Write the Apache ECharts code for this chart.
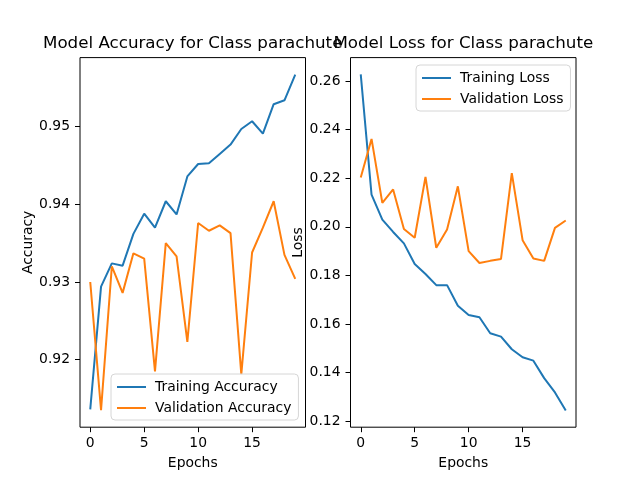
<!DOCTYPE html>
<html>
<head>
<meta charset="utf-8">
<script src="https://cdn.jsdelivr.net/npm/echarts@6/dist/echarts.min.js"></script>
<style>
html, body { margin: 0; padding: 0; background: #fff; }
#show { width: 640px; height: 480px; }
</style>
</head>
<body>
<div id="show"></div>
<script>
// epochs 0..19
var epochs = [0, 1, 2, 3, 4, 5, 6, 7, 8, 9, 10, 11, 12, 13, 14, 15, 16, 17, 18, 19];

// accuracy
var trainAcc = [0.9136, 0.9294, 0.9324, 0.9321, 0.9362, 0.9388, 0.9370, 0.9404, 0.9387, 0.9436,
	0.9452, 0.9453, 0.9465, 0.9477, 0.9497, 0.9507, 0.9491, 0.9529, 0.9534, 0.9567];
var valAcc = [0.9300, 0.9135, 0.9320, 0.9286, 0.9337, 0.9330, 0.9185, 0.9350, 0.9333, 0.9223,
	0.9376, 0.9366, 0.9373, 0.9363, 0.9181, 0.9338, 0.9370, 0.9404, 0.9335, 0.9304];

// loss
var trainLoss = [0.2628, 0.2133, 0.2030, 0.1979, 0.1932, 0.1847, 0.1806, 0.1760, 0.1760, 0.1675,
	0.1637, 0.1628, 0.1562, 0.1548, 0.1496, 0.1463, 0.1449, 0.1377, 0.1318, 0.1244];
var valLoss = [0.2203, 0.2362, 0.2099, 0.2154, 0.1991, 0.1955, 0.2206, 0.1914, 0.1989, 0.2167,
	0.1900, 0.1851, 0.1860, 0.1868, 0.2221, 0.1945, 0.1870, 0.1860, 0.1996, 0.2026];

// tick labels
var xTicks = [0, 5, 10, 15];
var accTicks = [0.92, 0.93, 0.94, 0.95];
var lossTicks = [0.12, 0.14, 0.16, 0.18, 0.20, 0.22, 0.24, 0.26];

var BLUE = '#1f77b4';
var ORANGE = '#ff7f0e';
var FONT = 'DejaVu Sans';

function pairs(ys) {
	var out = [];
	for (var i = 0; i < epochs.length; i++) {
		out.push([epochs[i], ys[i]]);
	}
	return out;
}

function xAxisOf(idx) {
	return {
		type: 'value',
		gridIndex: idx,
		min: -0.95,
		max: 19.95,
		name: 'Epochs',
		nameLocation: 'middle',
		nameGap: 29,
		nameTextStyle: { fontFamily: FONT, fontSize: 13.9, color: '#000' },
		axisLine: { show: false, onZero: false },
		axisTick: { show: true, customValues: xTicks, length: 5, lineStyle: { color: '#000' } },
		axisLabel: { customValues: xTicks, margin: 9, fontFamily: FONT, fontSize: 13.9, color: '#000' },
		splitLine: { show: false }
	};
}

function yAxisOf(idx, name, min, max, ticks, digits) {
	return {
		type: 'value',
		gridIndex: idx,
		min: min,
		max: max,
		name: name,
		nameLocation: 'middle',
		nameGap: 35,
		nameTextStyle: { fontFamily: FONT, fontSize: 13.9, color: '#000' },
		axisLine: { show: false, onZero: false },
		axisTick: { show: true, customValues: ticks, length: 5, lineStyle: { color: '#000' } },
		axisLabel: {
			customValues: ticks, margin: 10, fontFamily: FONT, fontSize: 13.9, color: '#000',
			formatter: function (v) { return v.toFixed(digits); }
		},
		splitLine: { show: false }
	};
}

function line(name, ys, color, idx) {
	return {
		name: name,
		type: 'line',
		xAxisIndex: idx,
		yAxisIndex: idx,
		data: pairs(ys),
		showSymbol: false,
		symbol: 'none',
		lineStyle: { color: color, width: 2 },
		itemStyle: { color: color },
		animation: false
	};
}

var legendBase = {
	orient: 'vertical',
	icon: 'rect',
	itemWidth: 29,
	itemHeight: 2,
	itemGap: 7,
	padding: [6, 7, 5, 6],
	backgroundColor: 'rgba(255,255,255,0.8)',
	borderColor: '#d6d6d6',
	borderWidth: 1,
	borderRadius: 4,
	textStyle: { fontFamily: FONT, fontSize: 13.9, color: '#000', padding: [0, 0, 0, 4] }
};

var myEchart = echarts.init(document.getElementById('show'), null, { renderer: 'canvas' });

var option = {
	backgroundColor: '#fff',
	animation: false,
	title: [{
		text: 'Model Accuracy for Class parachute',
		left: 192.7,
		top: 35,
		padding: 0,
		textAlign: 'center',
		textStyle: { fontFamily: FONT, fontSize: 16.7, fontWeight: 'normal', color: '#000' }
	}, {
		text: 'Model Loss for Class parachute',
		left: 463.3,
		top: 35,
		padding: 0,
		textAlign: 'center',
		textStyle: { fontFamily: FONT, fontSize: 16.7, fontWeight: 'normal', color: '#000' }
	}],
	grid: [{
		left: 80, top: 57.6, width: 225.5, height: 369.6,
		show: true, borderColor: '#000', borderWidth: 1, backgroundColor: 'transparent'
	}, {
		left: 350.5, top: 57.6, width: 225.5, height: 369.6,
		show: true, borderColor: '#000', borderWidth: 1, backgroundColor: 'transparent'
	}],
	legend: [
		Object.assign({}, legendBase, {
			data: ['Training Accuracy', 'Validation Accuracy'],
			left: 111, top: 374
		}),
		Object.assign({}, legendBase, {
			data: ['Training Loss', 'Validation Loss'],
			left: 416, top: 65
		})
	],
	xAxis: [xAxisOf(0), xAxisOf(1)],
	yAxis: [
		yAxisOf(0, 'Accuracy', 0.9113, 0.9589, accTicks, 2),
		yAxisOf(1, 'Loss', 0.1175, 0.2697, lossTicks, 2)
	],
	series: [
		line('Training Accuracy', trainAcc, BLUE, 0),
		line('Validation Accuracy', valAcc, ORANGE, 0),
		line('Training Loss', trainLoss, BLUE, 1),
		line('Validation Loss', valLoss, ORANGE, 1)
	]
};

myEchart.setOption(option);
</script>
</body>
</html>
